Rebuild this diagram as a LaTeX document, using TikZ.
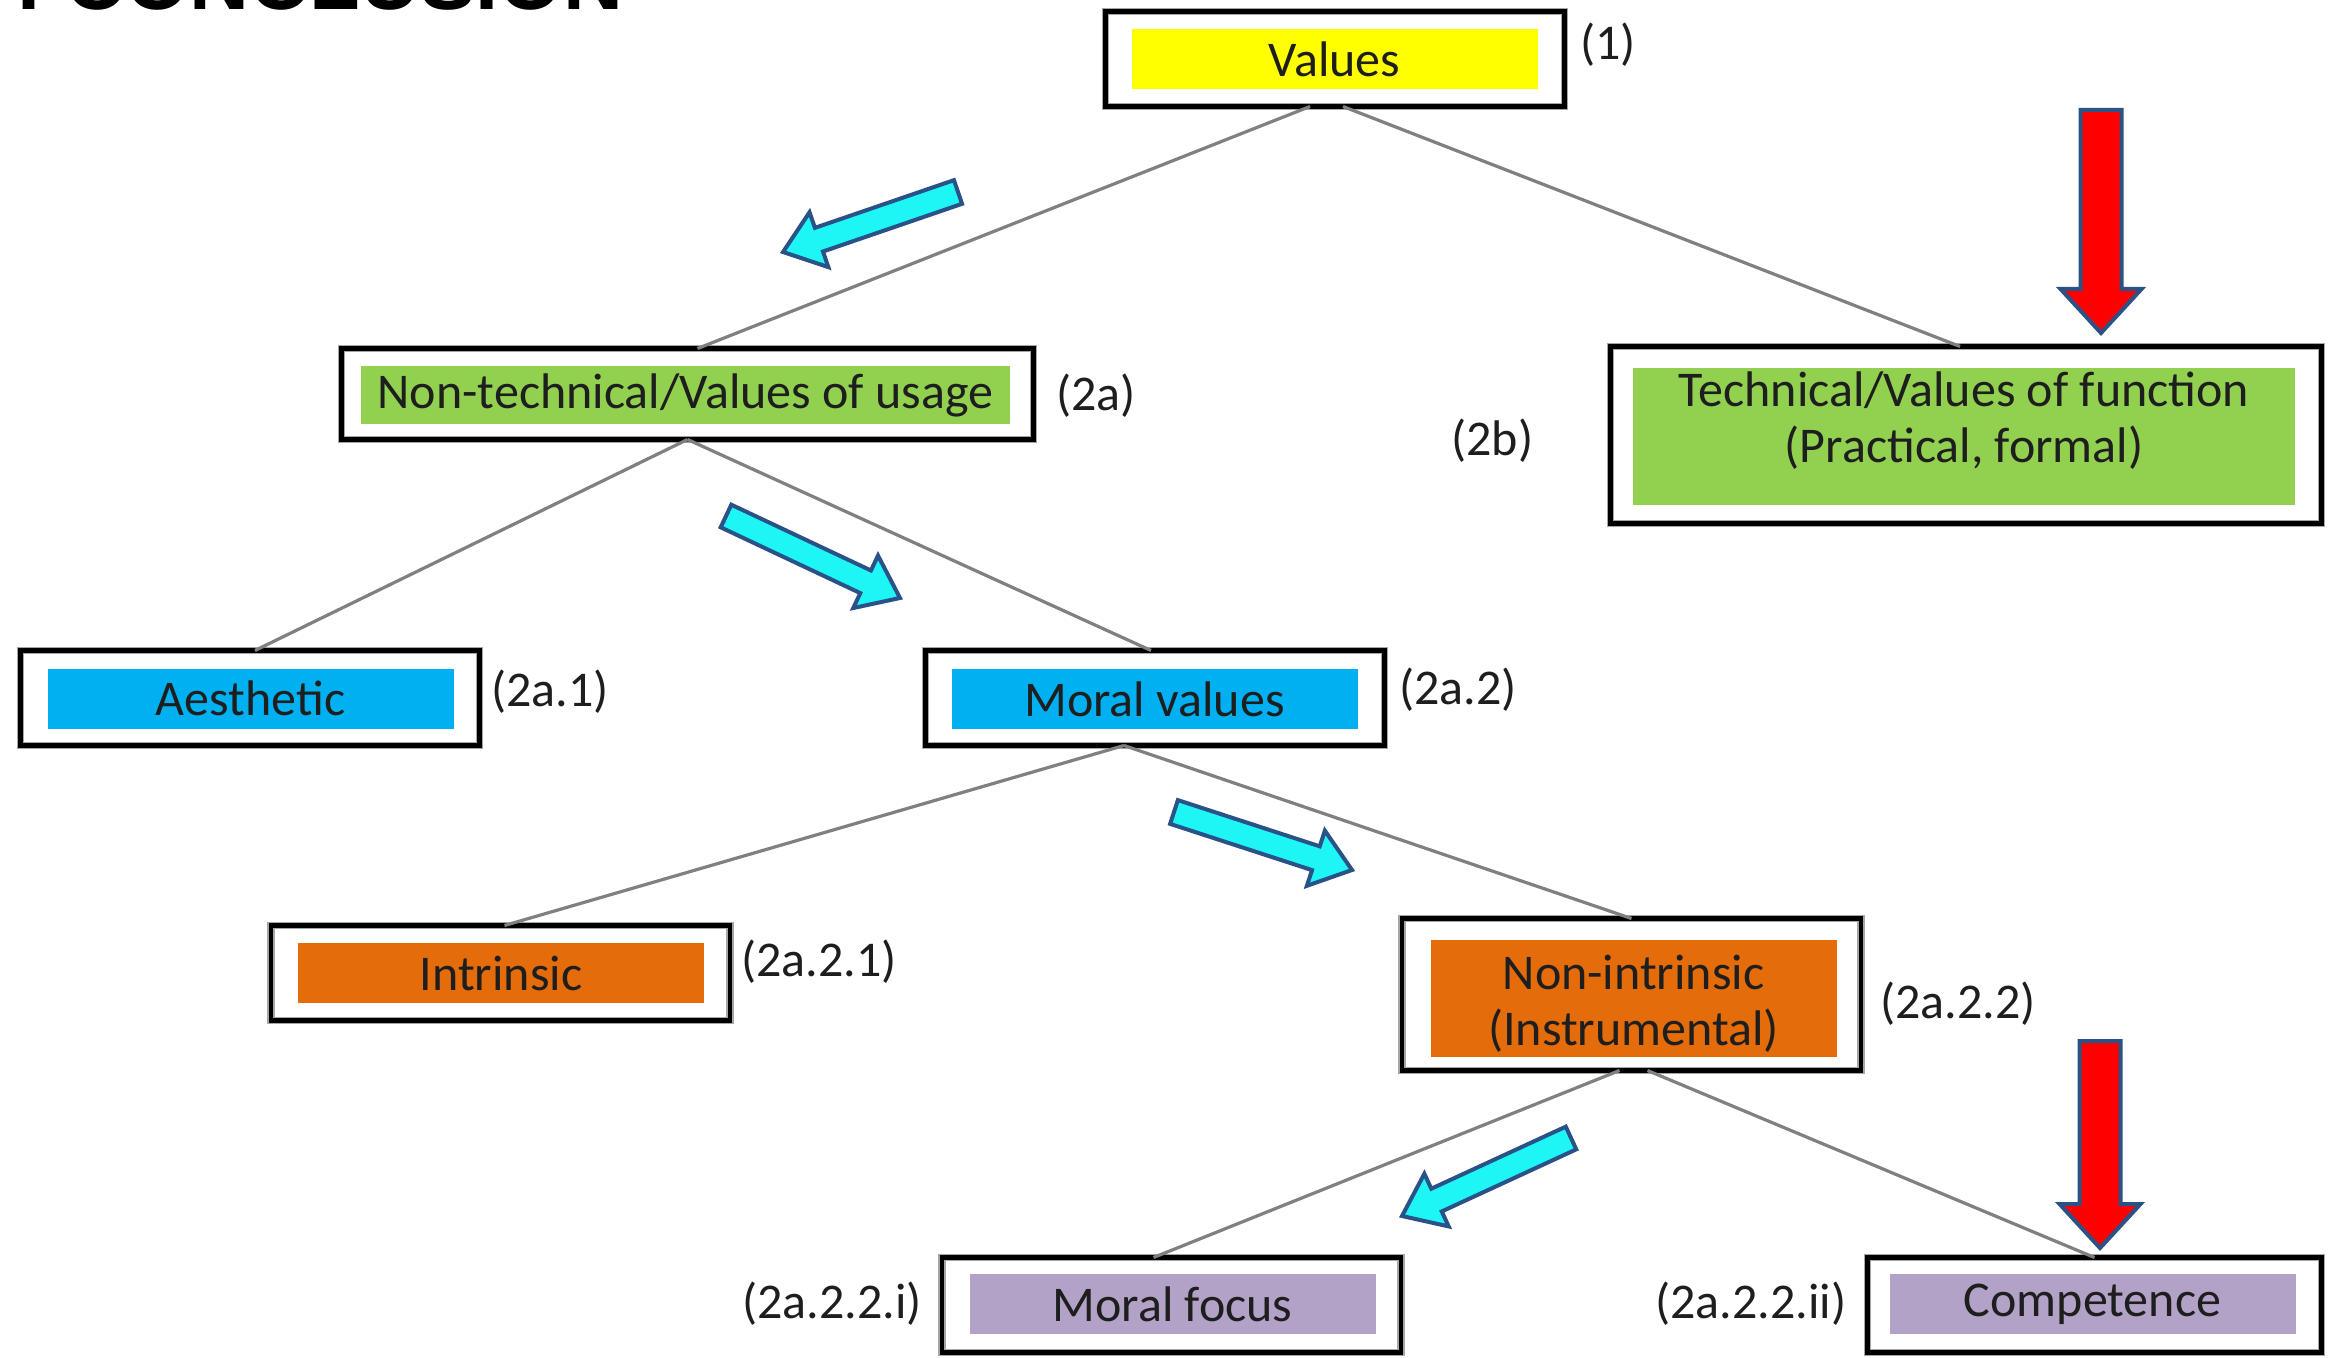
\documentclass[tikz,border=0pt]{standalone}
\usepackage{fontspec}
\setmainfont{Carlito}
\newfontfamily\headfont{Liberation Sans}
\usetikzlibrary{calc}
\definecolor{cyel}{RGB}{255,255,0}
\definecolor{cgreen}{RGB}{146,208,80}
\definecolor{cblue}{RGB}{0,176,240}
\definecolor{corange}{RGB}{228,108,10}
\definecolor{cpurple}{RGB}{179,162,199}
\definecolor{carrowcyan}{RGB}{30,246,246}
\definecolor{carrowline}{RGB}{42,82,135}
\definecolor{cred}{RGB}{255,0,0}
\definecolor{cline}{RGB}{128,128,128}
\definecolor{ctext}{RGB}{30,30,30}
\newcommand{\boxfont}{\fontsize{25}{28}\selectfont}
% block arrow from (#1t) to (#1p): half shaft #2, half head #3, head length #4, fill #5
\newcommand{\blockarr}[5]{%
  \coordinate (#1b) at ($(#1p)!#4!(#1t)$);
  \filldraw[fill=#5, draw=carrowline, line width=2pt, line join=miter]
    ($(#1t)!#2!90:(#1p)$) -- ($(#1b)!#2!-90:(#1t)$) -- ($(#1b)!#3!-90:(#1t)$) --
    (#1p) -- ($(#1b)!#3!90:(#1t)$) -- ($(#1b)!#2!90:(#1t)$) --
    ($(#1t)!#2!-90:(#1p)$) -- cycle;}
\tikzset{
  outerbox/.style={draw=black, line width=2.4pt, inner sep=0pt, outer sep=0pt,
    minimum width=229.5pt, minimum height=47.5pt,
    preaction={draw=black!35, line width=3.6pt}},
  innerbox/.style={fill=#1, inner sep=0pt, outer sep=0pt, minimum width=203pt,
    minimum height=30pt, text=ctext, align=center, font=\boxfont},
  boxtext/.style={inner sep=0pt, text=ctext, align=center, font=\boxfont},
  lbl/.style={anchor=west, inner sep=0pt, text=ctext, font=\boxfont},
  conn/.style={draw=cline, line width=1.6pt},
}
\begin{document}
\begin{tikzpicture}[x=0.5pt, y=-0.5pt]
\useasboundingbox (0,0) rectangle (2328,1358);
\fill[white] (0,0) rectangle (2328,1358);

% heading (cut off at top)
\node[font=\headfont\bfseries\fontsize{41.5}{45}\selectfont, anchor=base west, inner sep=0pt] (head) at (17,10) {.\hspace{0.3em}CONCLUSION};

% inner coloured boxes
\node[innerbox=cyel] (vt) at (1334.5,59.5) {Values};
\node[innerbox=cgreen, minimum width=324.5pt, minimum height=29pt] (ntt) at (685.5,395) {Non-technical/Values of usage};
\node[innerbox=cgreen, minimum width=331pt, minimum height=68.5pt] (tct) at (1964,436.5) {};
\node[boxtext] (tctx) at (1964,421) {Technical/Values of function\\(Practical, formal)};
\node[innerbox=cblue] (aet) at (250.5,698.5) {Aesthetic};
\node[innerbox=cblue] (mvt) at (1154.5,699) {Moral values};
\node[innerbox=corange] (int) at (501,973) {Intrinsic};
\node[innerbox=corange, minimum height=58.5pt] (nit) at (1633.5,998.5) {};
\node[boxtext] (nitx) at (1633.5,1004) {Non-intrinsic\\(Instrumental)};
\node[innerbox=cpurple] (mft) at (1172.5,1304) {Moral focus};
\node[innerbox=cpurple] (cot) at (2092.5,1304) {Competence};

% outer frames
\node[outerbox] (v) at (1335,59) {};
\node[outerbox, minimum width=346pt, minimum height=45.5pt] (nt) at (687.5,394) {};
\node[outerbox, minimum width=355.5pt, minimum height=88.5pt] (tc) at (1966,435) {};
\node[outerbox] (ae) at (250,698) {};
\node[outerbox] (mv) at (1155,698) {};
\node[outerbox] (in) at (500.5,973) {};
\node[outerbox, minimum height=76pt] (ni) at (1631.5,994.5) {};
\node[outerbox] (mf) at (1171.5,1305) {};
\node[outerbox, minimum width=227pt] (co) at (2094.5,1305) {};

% labels
\node[lbl] (l1) at (1580,45) {(1)};
\node[lbl] (l2a) at (1056,396) {(2a)};
\node[lbl] (l2b) at (1451,441) {(2b)};
\node[lbl] (l2a1) at (491,692) {(2a.1)};
\node[lbl] (l2a2) at (1399,690) {(2a.2)};
\node[lbl] (l2a21) at (741,962) {(2a.2.1)};
\node[lbl] (l2a22) at (1880,1004) {(2a.2.2)};
\node[lbl] (l2a22i) at (742,1304) {(2a.2.2.i)};
\node[lbl] (l2a22ii) at (1655,1304) {(2a.2.2.ii)};

% connectors
\draw[conn] ([xshift=-12.5pt]v.south) -- ([xshift=5pt]nt.north);
\draw[conn] ([xshift=4pt]v.south) -- ([xshift=-3pt]tc.north);
\draw[conn] (nt.south) -- ([xshift=2.5pt]ae.north);
\draw[conn] (nt.south) -- ([xshift=-2pt]mv.north);
\draw[conn] ([xshift=-15.5pt]mv.south) -- ([xshift=2pt]in.north);
\draw[conn] ([xshift=-15.5pt]mv.south) -- (ni.north);
\draw[conn] ([xshift=-6pt]ni.south) -- ([xshift=-9pt]mf.north);
\draw[conn] ([xshift=8pt]ni.south) -- (co.north);

% cyan block arrows
\coordinate (a1t) at (958,192); \coordinate (a1p) at (783,252);
\blockarr{a1}{6.25pt}{14.5pt}{19pt}{carrowcyan}
\coordinate (a2t) at (726,516); \coordinate (a2p) at (900,598);
\blockarr{a2}{6.25pt}{14.5pt}{19pt}{carrowcyan}
\coordinate (a3t) at (1174,812); \coordinate (a3p) at (1352,870);
\blockarr{a3}{6.25pt}{14.5pt}{19pt}{carrowcyan}
\coordinate (a4t) at (1571,1138); \coordinate (a4p) at (1402,1216);
\blockarr{a4}{6.25pt}{14.5pt}{19pt}{carrowcyan}

% red block arrows
\coordinate (r1t) at (2101,110); \coordinate (r1p) at (2101,333);
\blockarr{r1}{10.25pt}{20.25pt}{22pt}{cred}
\coordinate (r2t) at (2100,1041); \coordinate (r2p) at (2100,1248);
\blockarr{r2}{10.25pt}{20.25pt}{22pt}{cred}
\end{tikzpicture}
\end{document}
